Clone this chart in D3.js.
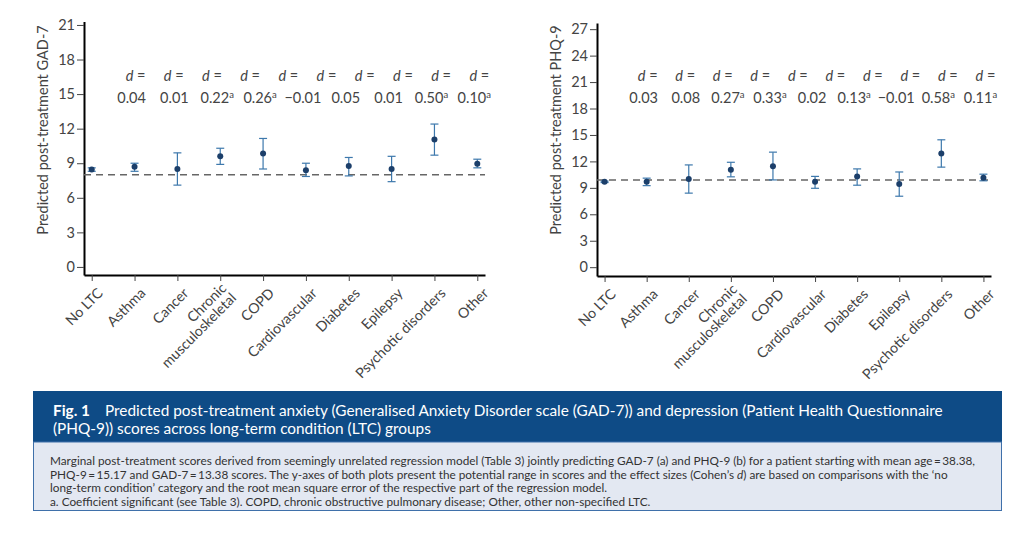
<!DOCTYPE html>
<html>
<head>
  <meta charset="utf-8">
  <title>Fig. 1</title>
  <script src="https://d3js.org/d3.v7.min.js"></script>
  <style>
    body { margin: 0; background: #fff; }
    text { font-family: Lato, "Open Sans", sans-serif; }
  </style>
</head>
<body>
<div id="chart"></div>
<script>
// categories (x axis), "\n" = line break in the tick label
var categories = ["No LTC", "Asthma", "Cancer", "Chronic\nmusculoskeletal", "COPD",
                  "Cardiovascular", "Diabetes", "Epilepsy", "Psychotic disorders", "Other"];

// GAD-7 panel
var gadMean = [8.45, 8.7, 8.5, 9.6, 9.85, 8.4, 8.75, 8.5, 11.05, 8.95];
var gadLow  = [8.3, 8.3, 7.1, 8.9, 8.5, 7.85, 7.9, 7.4, 9.7, 8.6];
var gadHigh = [8.6, 9.0, 9.9, 10.3, 11.15, 9.0, 9.5, 9.6, 12.4, 9.35];
var gadD    = ["0.04", "0.01", "0.22", "0.26", "\u22120.01", "0.05", "0.01", "0.50", "0.10"];
var gadSig  = [false, false, true, true, false, false, false, true, true];
var gadRef  = 8.0;
var gadTicks = [0, 3, 6, 9, 12, 15, 18, 21];

// PHQ-9 panel
var phqMean = [9.68, 9.7, 10.0, 11.05, 11.45, 9.7, 10.3, 9.45, 12.9, 10.15];
var phqLow  = [9.6, 9.25, 8.4, 10.25, 9.9, 8.95, 9.3, 8.05, 11.35, 9.8];
var phqHigh = [9.76, 10.1, 11.6, 11.9, 13.05, 10.3, 11.15, 10.8, 14.45, 10.55];
var phqD    = ["0.03", "0.08", "0.27", "0.33", "0.02", "0.13", "\u22120.01", "0.58", "0.11"];
var phqSig  = [false, false, true, true, false, true, false, true, true];
var phqRef  = 9.9;
var phqTicks = [0, 3, 6, 9, 12, 15, 18, 21, 24, 27];

var W = 1024, H = 546;
var svg = d3.select("#chart").append("svg")
    .attr("width", W).attr("height", H);

function drawPanel(p) {
  var g = svg.append("g");

  var x = d3.scalePoint().domain(categories).range([p.x0, p.x1]).padding(0.18);
  var y = d3.scaleLinear().domain(p.yDomain).range([p.yBottom, p.yTop]);

  // y axis
  var yAxis = g.append("g")
      .attr("transform", "translate(" + p.x0 + ",0)")
      .call(d3.axisLeft(y).tickValues(p.ticks).tickSize(7).tickPadding(2).tickSizeOuter(0));
  yAxis.select(".domain").attr("stroke", "#000").attr("stroke-width", 2);
  yAxis.selectAll(".tick line").attr("stroke", "#444");
  yAxis.selectAll(".tick text")
      .attr("font-family", "Lato, sans-serif").attr("font-size", 14.5).attr("fill", "#444");

  // x axis
  var xAxis = g.append("g")
      .attr("transform", "translate(0," + p.yBottom + ")")
      .call(d3.axisBottom(x).tickSize(6).tickSizeOuter(0));
  xAxis.select(".domain").attr("stroke", "#000").attr("stroke-width", 2);
  xAxis.selectAll(".tick line").attr("stroke", "#444");
  xAxis.selectAll(".tick text").remove();

  // rotated category labels
  categories.forEach(function(c) {
    var lines = c.split("\n");
    lines.forEach(function(line, i) {
      var off = (i - (lines.length - 1) / 2) * 14 * 0.707;
      g.append("text")
          .attr("transform", "translate(" + (x(c) + 5 + off) + "," + (p.yBottom + 12 + off) + ") rotate(-45)")
          .attr("text-anchor", "end")
          .attr("dy", "0.7em")
          .attr("font-size", 14.2)
          .attr("fill", "#444")
          .text(line);
    });
  });

  // y axis title
  g.append("text")
      .attr("transform", "translate(" + (p.x0 - 41) + ",130) rotate(-90)")
      .attr("text-anchor", "middle")
      .attr("dy", "0.35em")
      .attr("font-size", 14.5)
      .attr("fill", "#444")
      .text(p.title);

  // reference dashed line
  g.append("line")
      .attr("x1", p.x0).attr("x2", p.x1)
      .attr("y1", y(p.ref)).attr("y2", y(p.ref))
      .attr("stroke", "#666").attr("stroke-width", 1.5)
      .attr("stroke-dasharray", "7,5");

  // error bars
  var rows = categories.map(function(c, i) {
    return {cat: c, mean: p.mean[i], lo: p.low[i], hi: p.high[i]};
  });
  var eb = g.append("g").attr("stroke", "#3d78ac").attr("stroke-width", 1.2);
  rows.forEach(function(d) {
    var cx = x(d.cat);
    eb.append("line").attr("x1", cx).attr("x2", cx).attr("y1", y(d.lo)).attr("y2", y(d.hi));
    eb.append("line").attr("x1", cx - 4).attr("x2", cx + 4).attr("y1", y(d.lo)).attr("y2", y(d.lo));
    eb.append("line").attr("x1", cx - 4).attr("x2", cx + 4).attr("y1", y(d.hi)).attr("y2", y(d.hi));
  });
  g.selectAll("circle.pt").data(rows).enter().append("circle")
      .attr("cx", function(d) { return x(d.cat); })
      .attr("cy", function(d) { return y(d.mean); })
      .attr("r", 3)
      .attr("fill", "#1c3f6a");

  // "d =" labels
  var dx = d3.scalePoint().domain(d3.range(10))
      .range([x(categories[1]) + 1, x(categories[9]) + 2]);
  d3.range(10).forEach(function(i) {
    var t = g.append("text")
        .attr("x", dx(i)).attr("y", 81)
        .attr("text-anchor", "middle")
        .attr("font-size", 14.5).attr("fill", "#444");
    t.append("tspan").attr("font-style", "italic").text("d");
    t.append("tspan").text(" =");
  });

  // effect size values
  p.d.forEach(function(v, i) {
    var t = g.append("text")
        .attr("x", x(categories[i + 1]) - 3).attr("y", 103)
        .attr("text-anchor", "middle")
        .attr("font-size", 14.5).attr("fill", "#444");
    t.append("tspan").text(v);
    if (p.sig[i]) {
      t.append("tspan").attr("font-size", 9.5).attr("dy", -5.5).text("a");
    }
  });
}

drawPanel({x0: 84, x1: 485, yTop: 21.5, yBottom: 275, yDomain: [-0.7, 21.3],
  ticks: gadTicks, mean: gadMean, low: gadLow, high: gadHigh, ref: gadRef,
  d: gadD, sig: gadSig, title: "Predicted post-treatment GAD-7"});

drawPanel({x0: 597, x1: 991, yTop: 23, yBottom: 276, yDomain: [-1, 27.7],
  ticks: phqTicks, mean: phqMean, low: phqLow, high: phqHigh, ref: phqRef,
  d: phqD, sig: phqSig, title: "Predicted post-treatment PHQ-9"});

// caption box
svg.append("rect").attr("x", 33).attr("y", 391).attr("width", 969).attr("height", 51)
    .attr("fill", "#0e4b86");
svg.append("rect").attr("x", 33.5).attr("y", 442).attr("width", 968).attr("height", 68.5)
    .attr("fill", "#e3e8f2").attr("stroke", "#3f70aa").attr("stroke-width", 1);

function fitSize(sel, target) {
  var fs = parseFloat(sel.attr("font-size"));
  var w = sel.node().getComputedTextLength();
  var nf = fs * target / w;
  sel.attr("font-size", nf);
  return nf;
}

var head1 = svg.append("text").attr("x", 105).attr("y", 416)
    .attr("font-size", 15).attr("fill", "#fff")
    .text("Predicted post-treatment anxiety (Generalised Anxiety Disorder scale (GAD-7)) and depression (Patient Health Questionnaire");
var hs = fitSize(head1, 838);
svg.append("text").attr("x", 53).attr("y", 416)
    .attr("font-size", hs).attr("font-weight", "bold").attr("fill", "#fff")
    .text("Fig. 1");
svg.append("text").attr("x", 53).attr("y", 434)
    .attr("font-size", hs).attr("fill", "#fff")
    .text("(PHQ-9)) scores across long-term condition (LTC) groups");

var body1 = svg.append("text").attr("x", 50).attr("y", 465)
    .attr("font-size", 11).attr("fill", "#333")
    .text("Marginal post-treatment scores derived from seemingly unrelated regression model (Table 3) jointly predicting GAD-7 (a) and PHQ-9 (b) for a patient starting with mean age\u2009=\u200938.38,");
var bs = fitSize(body1, 926);
var b2 = svg.append("text").attr("x", 50).attr("y", 478.5)
    .attr("font-size", bs).attr("fill", "#333");
b2.append("tspan").text("PHQ-9\u2009=\u200915.17 and GAD-7\u2009=\u200913.38 scores. The y-axes of both plots present the potential range in scores and the effect sizes (Cohen\u2019s ");
b2.append("tspan").attr("font-style", "italic").text("d");
b2.append("tspan").text(") are based on comparisons with the \u2018no");
svg.append("text").attr("x", 50).attr("y", 492)
    .attr("font-size", bs).attr("fill", "#333")
    .text("long-term condition\u2019 category and the root mean square error of the respective part of the regression model.");
svg.append("text").attr("x", 50).attr("y", 505.5)
    .attr("font-size", bs).attr("fill", "#333")
    .text("a. Coefficient significant (see Table 3). COPD, chronic obstructive pulmonary disease; Other, other non-specified LTC.");
</script>
</body>
</html>
